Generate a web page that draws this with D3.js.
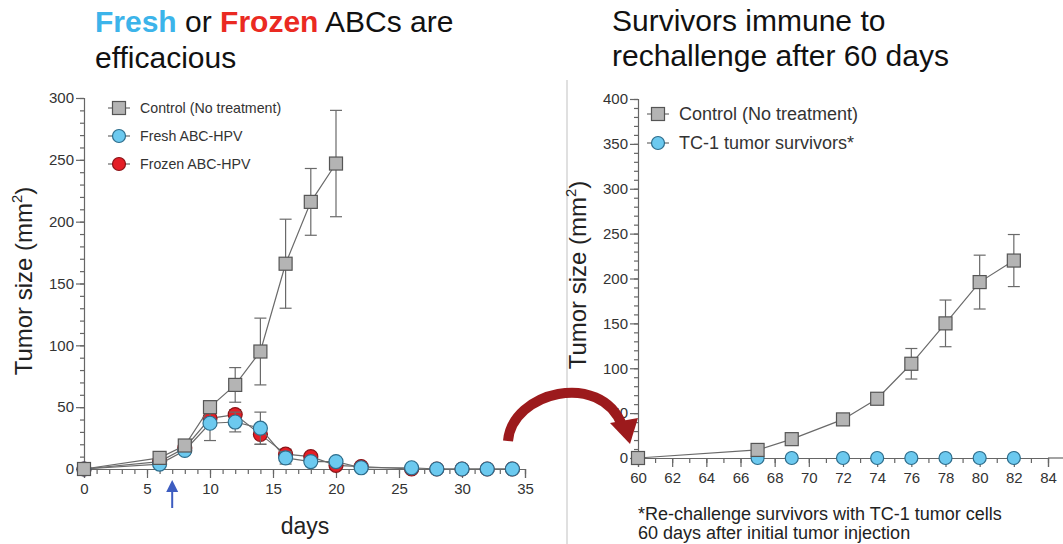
<!DOCTYPE html>
<html lang="en">
<head>
<meta charset="UTF-8">
<title>Tumor size</title>
<script src="https://d3js.org/d3.v7.min.js"></script>
<style>
  body { margin: 0; background: #fff; }
  svg { font-family: "Liberation Sans", Arial, sans-serif; }
</style>
</head>
<body>
<div id="chart"></div>
<script>
// ---- data ----
const leftControlDays = [0, 6, 8, 10, 12, 14, 16, 18, 20];
const leftControlVals = [0, 9, 19, 50, 68, 95, 166, 216, 247];
const leftControlErr  = [0, 2, 3, 5, 14, 27, 36, 27, 43];

const freshDays = [0, 6, 8, 10, 12, 14, 16, 18, 20, 22, 26, 28, 30, 32, 34];
const freshVals = [0, 4, 15, 37, 38, 33, 9, 6, 6, 1, 1, 0, 0, 0, 0];
const freshErr  = [0, 1, 3, 14, 8, 13, 5, 2, 2, 1, 0, 0, 0, 0, 0];

const frozenDays = [0, 6, 8, 10, 12, 14, 16, 18, 20, 22, 26, 28, 30, 32, 34];
const frozenVals = [0, 6, 17, 41, 44, 28, 12, 10, 3, 2, 0, 0, 0, 0, 0];
const frozenErr  = [0, 1, 3, 6, 4, 8, 4, 3, 1, 1, 0, 0, 0, 0, 0];

const rightControlDays = [60, 67, 69, 72, 74, 76, 78, 80, 82];
const rightControlVals = [0, 9, 21, 43, 66, 105, 150, 196, 220];
const rightControlErr  = [0, 2, 3, 6, 4, 17, 26, 30, 29];

const survivorDays = [60, 67, 69, 72, 74, 76, 78, 80, 82];
const survivorVals = [0, 0, 0, 0, 0, 0, 0, 0, 0];

const leftXTicks = [0, 5, 10, 15, 20, 25, 30, 35];
const leftYTicks = [0, 50, 100, 150, 200, 250, 300];
const rightXTicks = [60, 62, 64, 66, 68, 70, 72, 74, 76, 78, 80, 82, 84];
const rightYTicks = [0, 50, 100, 150, 200, 250, 300, 350, 400];
const treatmentDay = 7;

const W = 1063, H = 544;
const svg = d3.select("#chart").append("svg").attr("width", W).attr("height", H);

const GRAY = "#b4b4b4", GRAY_S = "#555", BLUE = "#6cc9ef", BLUE_S = "#2d6d8c", RED = "#e41e26", RED_S = "#8a1216";
const LINE = "#6a6a6a";

function zip(days, vals, errs) {
  return days.map((d, i) => ({ x: d, y: vals[i], e: errs ? errs[i] : 0 }));
}

function drawAxes(g, x, y, xMajor, xMinorStep, yMajor, yMinorStep, xMaxRange) {
  const [x0, x1] = x.domain();
  const [y0, y1] = y.domain();
  // y axis
  const yMinor = d3.range(y0, y1 + 0.001, yMinorStep);
  g.append("g").attr("transform", `translate(${x(x0)},0)`)
    .call(d3.axisLeft(y).tickValues(yMinor).tickSize(4).tickFormat(""))
    .call(a => a.select(".domain").remove());
  g.append("g").attr("transform", `translate(${x(x0)},0)`)
    .call(d3.axisLeft(y).tickValues(yMajor).tickSize(8).tickPadding(2))
    .call(a => a.selectAll("text").attr("font-size", 15).attr("fill", "#333"));
  // x axis
  const xMinor = d3.range(x0, x1 + 0.001, xMinorStep);
  g.append("g").attr("transform", `translate(0,${y(y0)})`)
    .call(d3.axisBottom(x).tickValues(xMinor).tickSize(5).tickFormat(""))
    .call(a => a.select(".domain").remove());
  g.append("g").attr("transform", `translate(0,${y(y0)})`)
    .call(d3.axisBottom(x).tickValues(xMajor).tickSize(9).tickPadding(5))
    .call(a => a.selectAll("text").attr("font-size", 15).attr("fill", "#333"));
  g.selectAll(".domain, .tick line").attr("stroke", "#666").attr("stroke-width", 1.2);
  if (xMaxRange) {
    g.append("line").attr("x1", x(x1)).attr("x2", xMaxRange)
      .attr("y1", y(y0)).attr("y2", y(y0)).attr("stroke", "#666").attr("stroke-width", 1.2);
  }
}

function drawSeries(g, x, y, pts, shape, fill, stroke, size) {
  const line = d3.line().x(d => x(d.x)).y(d => y(d.y));
  g.append("path").datum(pts).attr("d", line)
    .attr("fill", "none").attr("stroke", LINE).attr("stroke-width", 1.2);
  const eb = g.append("g");
  pts.filter(d => d.e > 0).forEach(d => {
    eb.append("line").attr("x1", x(d.x)).attr("x2", x(d.x))
      .attr("y1", y(d.y + d.e)).attr("y2", y(d.y - d.e)).attr("stroke", LINE).attr("stroke-width", 1.2);
    [d.y + d.e, d.y - d.e].forEach(v => {
      eb.append("line").attr("x1", x(d.x) - 6).attr("x2", x(d.x) + 6)
        .attr("y1", y(v)).attr("y2", y(v)).attr("stroke", LINE).attr("stroke-width", 1.2);
    });
  });
  drawMarkers(g, pts.map(d => [x(d.x), y(d.y)]), shape, fill, stroke, size);
}

function drawMarkers(g, xy, shape, fill, stroke, size) {
  xy.forEach(([px, py]) => {
    if (shape === "square") {
      g.append("rect").attr("x", px - size / 2).attr("y", py - size / 2)
        .attr("width", size).attr("height", size)
        .attr("fill", fill).attr("stroke", stroke).attr("stroke-width", 1.2);
    } else {
      g.append("circle").attr("cx", px).attr("cy", py).attr("r", size / 2)
        .attr("fill", fill).attr("stroke", stroke).attr("stroke-width", 1.2);
    }
  });
}

function yLabel(g, cx, cy, size) {
  const t = g.append("text").attr("transform", `translate(${cx},${cy}) rotate(-90)`)
    .attr("text-anchor", "middle").attr("font-size", size).attr("fill", "#222");
  t.append("tspan").text("Tumor size (mm");
  t.append("tspan").text("2").attr("font-size", size * 0.62).attr("dy", -size * 0.4);
  t.append("tspan").text(")").attr("dy", size * 0.4);
}

function legend(g, x0, y0, gap, items, fontSize, msize) {
  items.forEach((it, i) => {
    const yy = y0 + i * gap;
    g.append("line").attr("x1", x0 - 11).attr("x2", x0 + 11).attr("y1", yy).attr("y2", yy)
      .attr("stroke", LINE).attr("stroke-width", 1.2);
    drawMarkers(g, [[x0, yy]], it.shape, it.fill, it.stroke, msize);
    g.append("text").attr("x", x0 + 21).attr("y", yy).attr("dy", "0.35em")
      .attr("font-size", fontSize).attr("fill", "#333").text(it.label);
  });
}

// ---- titles ----
const t1 = svg.append("text").attr("x", 95).attr("y", 32).attr("font-size", 30).attr("fill", "#111");
t1.append("tspan").text("Fresh").attr("fill", "#3cb4ea").attr("font-weight", "bold");
t1.append("tspan").text(" or ");
t1.append("tspan").text("Frozen").attr("fill", "#ea2a22").attr("font-weight", "bold");
t1.append("tspan").text(" ABCs are");
svg.append("text").attr("x", 95).attr("y", 68).attr("font-size", 30).attr("fill", "#111").text("efficacious");

svg.append("text").attr("x", 612).attr("y", 31).attr("font-size", 30).attr("fill", "#111").text("Survivors immune to");
svg.append("text").attr("x", 612).attr("y", 66).attr("font-size", 30).attr("fill", "#111").text("rechallenge after 60 days");

// divider
svg.append("line").attr("x1", 567).attr("x2", 567).attr("y1", 80).attr("y2", H)
  .attr("stroke", "#d6d6d6").attr("stroke-width", 1.5);

// ---- left chart ----
const gl = svg.append("g");
const xL = d3.scaleLinear().domain([0, 35]).range([84, 525]);
const yL = d3.scaleLinear().domain([0, 300]).range([469, 98]);
drawAxes(gl, xL, yL, leftXTicks, 1, leftYTicks, 10);
drawSeries(gl, xL, yL, zip(frozenDays, frozenVals, frozenErr), "circle", RED, RED_S, 14);
drawSeries(gl, xL, yL, zip(freshDays, freshVals, freshErr), "circle", BLUE, BLUE_S, 14);
drawSeries(gl, xL, yL, zip(leftControlDays, leftControlVals, leftControlErr), "square", GRAY, GRAY_S, 13);
yLabel(gl, 32, 281, 24);
gl.append("text").attr("x", 305).attr("y", 534).attr("text-anchor", "middle")
  .attr("font-size", 23).attr("fill", "#222").text("days");
legend(gl, 119, 108, 28, [
  { label: "Control (No treatment)", shape: "square", fill: GRAY, stroke: GRAY_S },
  { label: "Fresh ABC-HPV", shape: "circle", fill: BLUE, stroke: BLUE_S },
  { label: "Frozen ABC-HPV", shape: "circle", fill: RED, stroke: RED_S }
], 14.2, 13);

// treatment arrow
const ax = xL(treatmentDay);
gl.append("line").attr("x1", ax).attr("x2", ax).attr("y1", 508).attr("y2", 490)
  .attr("stroke", "#3d5cc0").attr("stroke-width", 2);
gl.append("path").attr("d", `M${ax - 6},492 L${ax},480 L${ax + 6},492 Z`).attr("fill", "#3d5cc0");

// ---- right chart ----
const gr = svg.append("g");
const xR = d3.scaleLinear().domain([60, 84]).range([638, 1048]);
const yR = d3.scaleLinear().domain([0, 400]).range([458, 99]);
drawAxes(gr, xR, yR, rightXTicks, 1, rightYTicks, 10, W);
drawMarkers(gr, survivorDays.map((d, i) => [xR(d), yR(survivorVals[i])]), "circle", BLUE, BLUE_S, 13);
drawSeries(gr, xR, yR, zip(rightControlDays, rightControlVals, rightControlErr), "square", GRAY, GRAY_S, 13);
yLabel(gr, 586, 275, 24);
legend(gr, 658, 114, 29, [
  { label: "Control (No treatment)", shape: "square", fill: GRAY, stroke: GRAY_S },
  { label: "TC-1 tumor survivors*", shape: "circle", fill: BLUE, stroke: BLUE_S }
], 18, 13);
gr.append("text").attr("x", 638).attr("y", 520).attr("font-size", 18).attr("fill", "#222")
  .text("*Re-challenge survivors with TC-1 tumor cells");
gr.append("text").attr("x", 638).attr("y", 539).attr("font-size", 18).attr("fill", "#222")
  .text("60 days after initial tumor injection");

// ---- curved red arrow ----
svg.append("path")
  .attr("d", "M508,441 C512,392 600,370 622,425")
  .attr("fill", "none").attr("stroke", "#9c1a1c").attr("stroke-width", 10);
svg.append("path").attr("d", "M610,423 L638,418 L630,444 Z").attr("fill", "#9c1a1c");
</script>
</body>
</html>
